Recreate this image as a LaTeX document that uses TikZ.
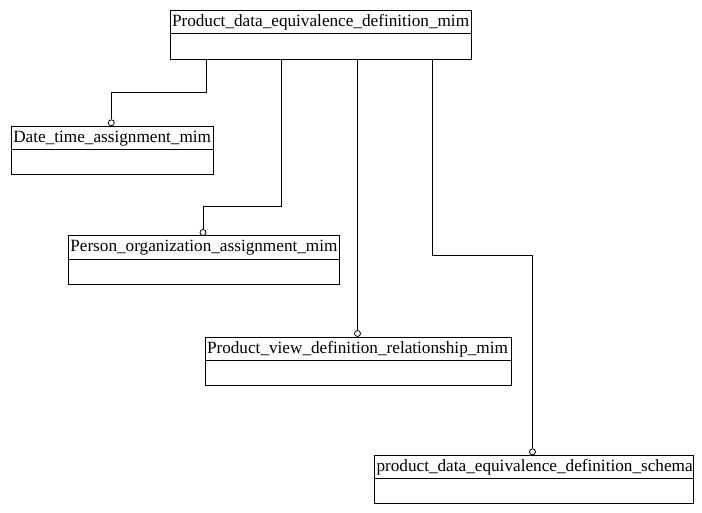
\documentclass[tikz,border=0pt]{standalone}
\usepackage{fontspec}
\setmainfont{Liberation Serif}
\usetikzlibrary{calc}
\begin{document}
\begin{tikzpicture}[x=1pt,y=-1pt,line width=1pt,
  entity/.style={draw=black, fill=white, rectangle, anchor=north west, inner sep=0pt},
  ttl/.style={anchor=west, inner sep=0pt, font=\fontsize{17.2}{18}\selectfont},
  ring/.style={draw=black, fill=white, circle, inner sep=0pt, minimum size=6pt, line width=0.8pt}]
\useasboundingbox (0,0) rectangle (702,513);
% boxes
\node[entity, minimum width=301pt, minimum height=49pt] (top) at (169.5,10) {};
\draw ($(top.north west)+(0,24)$) -- ($(top.north east)+(0,24)$);
\node[ttl] (toptxt) at ($(top.north west)+(2,12.5)$) {Product\_data\_equivalence\_definition\_mim};

\node[entity, minimum width=202.5pt, minimum height=48.5pt] (dt) at (10.8,125.8) {};
\draw ($(dt.north west)+(0,24)$) -- ($(dt.north east)+(0,24)$);
\node[ttl] (dttxt) at ($(dt.north west)+(2,12.5)$) {Date\_time\_assignment\_mim};

\node[entity, minimum width=271.5pt, minimum height=48.5pt] (po) at (67.8,235.5) {};
\draw ($(po.north west)+(0,24.5)$) -- ($(po.north east)+(0,24.5)$);
\node[ttl] (potxt) at ($(po.north west)+(2,12.5)$) {Person\_organization\_assignment\_mim};

\node[entity, minimum width=306pt, minimum height=48.5pt] (pv) at (204.5,336.5) {};
\draw ($(pv.north west)+(0,24.2)$) -- ($(pv.north east)+(0,24.2)$);
\node[ttl] (pvtxt) at ($(pv.north west)+(2,12.5)$) {Product\_view\_definition\_relationship\_mim};

\node[entity, minimum width=318.5pt, minimum height=48.5pt] (sc) at (374,454.8) {};
\draw ($(sc.north west)+(0,24)$) -- ($(sc.north east)+(0,24)$);
\node[ttl] (sctxt) at ($(sc.north west)+(2,12.5)$) {product\_data\_equivalence\_definition\_schema};

% connector endpoints
\coordinate (s1) at (206.5,59);
\coordinate (s2) at (281.5,59);
\coordinate (s3) at (357.5,59);
\coordinate (s4) at (432.5,59);
\node[ring] (c1) at (111.3,122.8) {};
\node[ring] (c2) at (203,232.5) {};
\node[ring] (c3) at (357.5,333.5) {};
\node[ring] (c4) at (532.5,451.8) {};

\draw (s1) -- (206.5,92.3) -| (c1);
\draw (s2) -- (281.5,207) -| (c2);
\draw (s3) -- (c3);
\draw (s4) -- (432.5,256) -| (c4);
\end{tikzpicture}
\end{document}
